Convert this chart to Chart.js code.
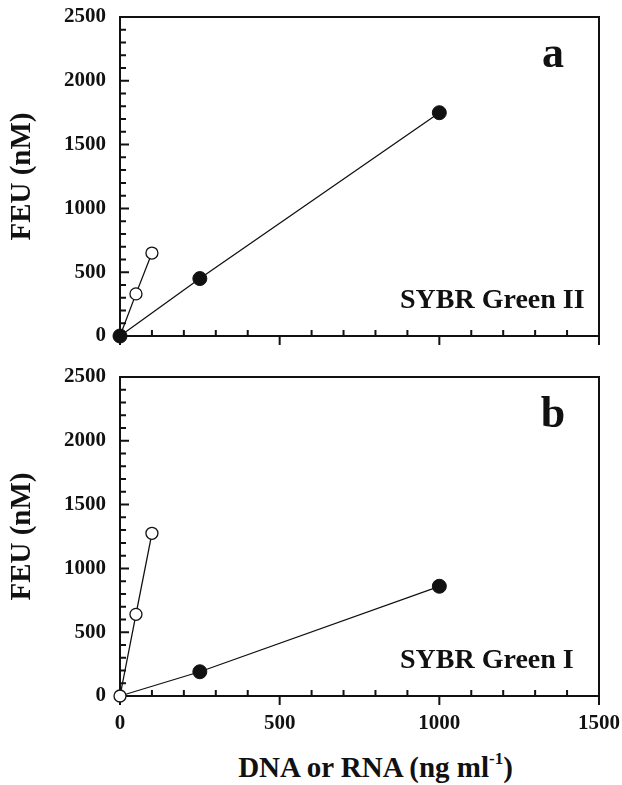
<!DOCTYPE html>
<html>
<head>
<meta charset="utf-8">
<script src="https://cdn.jsdelivr.net/npm/chart.js@4/dist/chart.umd.min.js"></script>
<style>
  html, body { margin: 0; padding: 0; background: #fff; }
  body { width: 622px; height: 785px; position: relative; overflow: hidden; }
  canvas { position: absolute; left: 0; }
  #panelA { top: 0; }
  #panelB { top: 360px; }
  #xTitle {
    position: absolute; left: 136px; width: 479px; top: 751px;
    text-align: center; color: #111;
    font: bold 29px "Liberation Serif", "Times New Roman", serif;
  }
  #xTitle sup { font-size: 17px; line-height: 0; position: relative; top: -2px; }
</style>
</head>
<body>
<canvas id="panelA" width="622" height="360"></canvas>
<canvas id="panelB" width="622" height="385"></canvas>
<div id="xTitle">DNA or RNA (ng ml<sup>-1</sup>)</div>
<script>
// axis ranges and ticks
const xMin = 0, xMax = 1500, xMajorStep = 500, xMinorStep = 100;
const yMin = 0, yMax = 2500, yMajorStep = 500, yMinorStep = 100;
const yTitle = 'FEU (nM)';

// filled circles (DNA) and open circles (RNA)
const dnaConc = [0, 250, 1000];
const rnaConc = [0, 50, 100];
const feuDnaGreenII = [0, 450, 1750];
const feuRnaGreenII = [0, 330, 650];
const feuDnaGreenI = [0, 190, 860];
const feuRnaGreenI = [0, 640, 1275];

const ink = '#111';
const serif = '"Liberation Serif", "Times New Roman", serif';

function toPoints(xs, ys) {
    return xs.map((v, i) => ({ x: v, y: ys[i] }));
}

// frame + inward minor ticks, outward major x ticks
const frameTicks = {
    id: 'frameTicks',
    beforeDatasetsDraw(chart) {
        const { ctx, chartArea: a, scales: { x, y } } = chart;
        ctx.save();
        ctx.strokeStyle = ink;
        ctx.lineWidth = 2;
        ctx.strokeRect(a.left, a.top, a.right - a.left, a.bottom - a.top);
        ctx.beginPath();
        for (let v = xMin; v <= xMax; v += xMinorStep) {
            const px = x.getPixelForValue(v);
            if (v % xMajorStep === 0) {
                ctx.moveTo(px, a.bottom);
                ctx.lineTo(px, a.bottom + 9);
            } else {
                ctx.moveTo(px, a.bottom);
                ctx.lineTo(px, a.bottom - 6);
            }
        }
        for (let v = yMin + yMinorStep; v < yMax; v += yMinorStep) {
            const py = y.getPixelForValue(v);
            ctx.moveTo(a.left, py);
            ctx.lineTo(a.left + (v % yMajorStep === 0 ? 9 : 6), py);
        }
        ctx.stroke();
        ctx.restore();
    }
};

// panel letter and dye name
const panelText = {
    id: 'panelText',
    afterDraw(chart, args, opts) {
        const { ctx, chartArea: a } = chart;
        ctx.save();
        ctx.fillStyle = ink;
        ctx.textBaseline = 'alphabetic';
        ctx.textAlign = 'center';
        ctx.font = 'bold 44px ' + serif;
        ctx.fillText(opts.letter, a.right - 46, a.top + 50);
        ctx.textAlign = 'left';
        ctx.font = 'bold 28px ' + serif;
        ctx.fillText(opts.dye, a.left + 280, a.bottom - 28);
        ctx.restore();
    }
};

function makePanel(id, dnaY, rnaY, letter, dye, showXLabels, xHeight, rnaOnTop) {
    const dna = {
        data: toPoints(dnaConc, dnaY),
        showLine: true,
        clip: false,
        borderColor: ink,
        borderWidth: 1.3,
        backgroundColor: ink,
        pointRadius: c => (rnaOnTop && c.dataIndex === 0) ? 0 : 7,
        pointBorderWidth: 1,
        pointBackgroundColor: ink,
        pointBorderColor: ink
    };
    const rna = {
        data: toPoints(rnaConc, rnaY),
        showLine: true,
        clip: false,
        borderColor: ink,
        borderWidth: 1.3,
        backgroundColor: '#fff',
        pointRadius: 6,
        pointBorderWidth: 1.3,
        pointBackgroundColor: '#fff',
        pointBorderColor: ink
    };
    const tickFont = { family: serif, weight: 'bold', size: 21 };
    new Chart(document.getElementById(id), {
        type: 'scatter',
        data: { datasets: rnaOnTop ? [rna, dna] : [dna, rna] },
        options: {
            responsive: false,
            animation: false,
            devicePixelRatio: 1,
            layout: { padding: { top: 17, right: 23, left: 0, bottom: 0 } },
            plugins: {
                legend: { display: false },
                tooltip: { enabled: false },
                panelText: { letter: letter, dye: dye }
            },
            scales: {
                x: {
                    type: 'linear', min: xMin, max: xMax,
                    grid: { display: false, drawTicks: false },
                    border: { display: false },
                    ticks: {
                        display: showXLabels, stepSize: xMajorStep, padding: 15,
                        color: ink, font: tickFont,
                        callback: v => String(v)
                    },
                    afterFit: s => {
                        s.height = xHeight;
                        s.paddingLeft = 0;
                        s.paddingRight = 0;
                    }
                },
                y: {
                    type: 'linear', min: yMin, max: yMax,
                    grid: { display: false, drawTicks: false },
                    border: { display: false },
                    ticks: {
                        stepSize: yMajorStep, padding: 14,
                        color: ink, font: tickFont,
                        callback: v => String(v)
                    },
                    title: {
                        display: true, text: yTitle, color: ink, padding: { top: 5, bottom: 0 },
                        font: { family: serif, weight: 'bold', size: 29 }
                    },
                    afterFit: s => {
                        s.width = 120;
                        s.paddingTop = 0;
                        s.paddingBottom = 0;
                    }
                }
            }
        },
        plugins: [frameTicks, panelText]
    });
}

makePanel('panelA', feuDnaGreenII, feuRnaGreenII, 'a', 'SYBR Green II', false, 24, false);
makePanel('panelB', feuDnaGreenI, feuRnaGreenI, 'b', 'SYBR Green I', true, 49, true);
</script>
</body>
</html>
